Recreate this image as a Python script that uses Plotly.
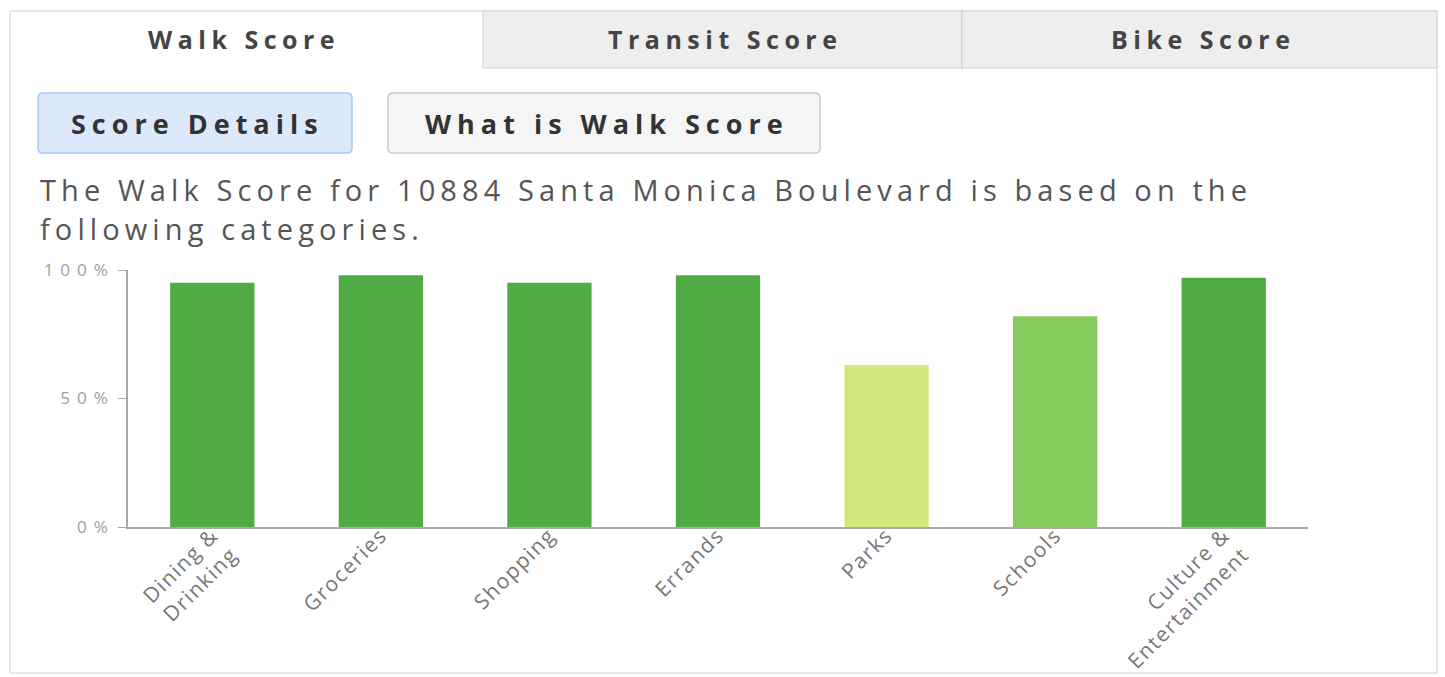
import plotly.graph_objects as go

W, H = 1445, 677

categories = ["Dining & Drinking", "Groceries", "Shopping", "Errands", "Parks", "Schools", "Culture & Entertainment"]
category_labels = ["Dining &<br>Drinking", "Groceries", "Shopping", "Errands", "Parks", "Schools", "Culture &<br>Entertainment"]
scores = [95, 98, 95, 98, 63, 82, 97]
bar_colors = ["#4fac44", "#4fac44", "#4fac44", "#4fac44", "#d3e87c", "#86cb5b", "#4fac44"]
y_tickvals = [0, 50, 100]
y_ticktext = ["0%", "50%", "100%"]
tab_labels = ["Walk Score", "Transit Score", "Bike Score"]
button_labels = ["Score Details", "What is Walk Score"]
description = ["The Walk Score for 10884 Santa Monica Boulevard is based on the",
               "following categories."]


def px(x):
    return x / W


def py(y):
    return 1 - y / H


def spaced(text, ls):
    return '<span style="letter-spacing:%.1fpx">%s</span>' % (ls, text)


def rounded_rect(x0, y0, x1, y1, r):
    X0, X1, Y0, Y1 = px(x0), px(x1), py(y0), py(y1)
    rx, ry = r / W, r / H
    return ("M {a},{b} L {c},{b} Q {X1},{b} {X1},{d} L {X1},{e} Q {X1},{Y1} {c},{Y1} "
            "L {a},{Y1} Q {X0},{Y1} {X0},{e} L {X0},{d} Q {X0},{b} {a},{b} Z").format(
        a=X0 + rx, b=Y0, c=X1 - rx, d=Y0 - ry, e=Y1 + ry, X0=X0, X1=X1, Y1=Y1)


FONT = "Open Sans, Noto Sans, sans-serif"

fig = go.Figure()
fig.add_trace(go.Bar(
    x=categories, y=scores, marker=dict(color=bar_colors, line=dict(width=0)),
    width=0.5, hoverinfo="x+y"))

shapes = []
# outer panel
shapes.append(dict(type="rect", xref="paper", yref="paper",
                   x0=px(10), x1=px(1437), y0=py(673), y1=py(11),
                   line=dict(color="#d0d0d0", width=1), fillcolor="rgba(0,0,0,0)", layer="below"))
# inactive tabs
for x0, x1 in [(483, 962), (962, 1437)]:
    shapes.append(dict(type="rect", xref="paper", yref="paper",
                       x0=px(x0), x1=px(x1), y0=py(68), y1=py(11),
                       line=dict(color="#d0d0d0", width=1), fillcolor="#eeeeee", layer="below"))
# buttons
shapes.append(dict(type="path", xref="paper", yref="paper",
                   path=rounded_rect(38, 93, 352, 153, 5),
                   line=dict(color="#a9c9ef", width=1.5), fillcolor="#dce9fa", layer="below"))
shapes.append(dict(type="path", xref="paper", yref="paper",
                   path=rounded_rect(388, 93, 820, 153, 5),
                   line=dict(color="#c9c9c9", width=1.5), fillcolor="#f5f5f5", layer="below"))

annotations = []
for label, cx in zip(tab_labels, [244, 725, 1203]):
    annotations.append(dict(xref="paper", yref="paper", x=px(cx), y=py(39),
                            text="<b>%s</b>" % spaced(label, 5.5), showarrow=False,
                            xanchor="center", yanchor="middle",
                            font=dict(family=FONT, size=25, color="#444444")))
for label, cx in zip(button_labels, [197, 607]):
    annotations.append(dict(xref="paper", yref="paper", x=px(cx), y=py(123),
                            text="<b>%s</b>" % spaced(label, 6.0), showarrow=False,
                            xanchor="center", yanchor="middle",
                            font=dict(family=FONT, size=27, color="#333333")))
for line, cy in zip(description, [190, 228]):
    annotations.append(dict(xref="paper", yref="paper", x=px(38), y=py(cy),
                            text=spaced(line, 5.1), showarrow=False,
                            xanchor="left", yanchor="middle",
                            font=dict(family=FONT, size=29, color="#555555")))

fig.update_layout(
    width=W, height=H,
    margin=dict(l=0, r=0, t=0, b=0, autoexpand=False),
    paper_bgcolor="white", plot_bgcolor="white",
    showlegend=False,
    shapes=shapes, annotations=annotations,
    xaxis=dict(domain=[px(128), px(1308)], showline=True, linecolor="#aaaaaa", linewidth=1.5,
               ticks="", tickangle=-45, showgrid=False, zeroline=False, automargin=False,
               ticklabelstandoff=-14,
               tickvals=categories, ticktext=[spaced(t, 1.5) for t in category_labels],
               tickfont=dict(family=FONT, size=21, color="#777777")),
    yaxis=dict(domain=[py(527), py(270)], range=[0, 100], showline=True, linecolor="#aaaaaa",
               linewidth=1.5, tickvals=y_tickvals, ticktext=[spaced(t, 7) for t in y_ticktext],
               ticks="outside", automargin=False,
               ticklen=8, tickcolor="#aaaaaa", showgrid=False, zeroline=False,
               tickfont=dict(family=FONT, size=17, color="#a0a0a0")),
)

fig.write_html("out.html")
